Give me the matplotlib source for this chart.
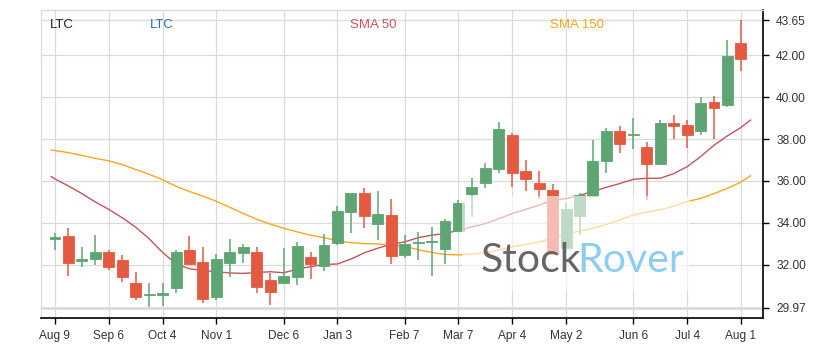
import matplotlib
matplotlib.use('Agg')
import matplotlib.pyplot as plt
import matplotlib.dates as mdates
from matplotlib.patches import Rectangle
import pandas as pd

# weekly candles, LTC, Aug 2021 - Aug 2022
weeks = pd.date_range('2021-08-09', periods=52, freq='W-MON')

opens = [33.25, 33.38, 32.20, 32.30, 32.62, 32.24, 31.14, 30.57, 30.59, 30.92,
         32.71, 32.14, 30.49, 32.11, 32.59, 32.62, 31.29, 31.16, 31.44, 32.38,
         31.95, 33.06, 34.54, 35.43, 33.97, 34.38, 32.49, 33.03, 33.08, 32.78,
         33.63, 35.40, 35.92, 36.59, 38.19, 36.48, 35.89, 35.57, 32.83, 34.35,
         35.29, 36.94, 38.38, 38.19, 37.62, 36.82, 38.75, 38.65, 38.40, 39.75,
         39.63, 42.56]
highs = [33.54, 33.75, 32.87, 33.41, 32.71, 32.48, 31.67, 31.13, 31.13, 32.71,
         33.38, 32.86, 32.51, 33.24, 32.98, 32.86, 31.63, 32.79, 33.11, 32.62,
         33.46, 34.81, 35.43, 35.68, 35.52, 35.14, 33.41, 33.56, 33.81, 34.18,
         35.10, 36.13, 36.84, 38.79, 38.30, 37.00, 36.48, 35.84, 35.02, 35.45,
         37.95, 38.51, 38.62, 38.99, 37.87, 38.90, 39.13, 38.90, 40.02, 40.06,
         42.73, 43.68]
lows = [32.71, 31.48, 31.89, 32.01, 31.76, 31.21, 30.33, 29.98, 30.05, 30.68,
        32.03, 30.21, 30.33, 31.41, 32.08, 30.65, 30.08, 31.10, 31.03, 31.32,
        31.73, 32.94, 33.54, 33.78, 33.18, 32.06, 32.35, 32.22, 31.46, 32.05,
        33.60, 34.30, 35.65, 36.37, 35.70, 35.54, 35.13, 32.48, 32.80, 33.43,
        35.22, 36.37, 37.35, 37.51, 35.10, 36.82, 38.00, 37.56, 38.19, 38.00,
        39.54, 41.22]
closes = [33.35, 32.11, 32.27, 32.62, 31.92, 31.44, 30.49, 30.64, 30.66, 32.62,
          32.05, 30.39, 32.29, 32.62, 32.86, 30.97, 30.71, 31.48, 32.90, 32.05,
          32.95, 34.57, 35.43, 34.35, 34.43, 32.44, 33.00, 33.09, 33.14, 34.10,
          34.94, 35.71, 36.62, 38.48, 36.40, 36.08, 35.63, 32.52, 34.67, 35.33,
          36.95, 38.38, 37.78, 38.23, 36.82, 38.75, 38.63, 38.21, 39.70, 39.49,
          41.94, 41.82]

# moving averages read at the candle dates, plus the first and last day
sma_dates = [pd.Timestamp('2021-08-07')] + list(weeks) + [pd.Timestamp('2022-08-06')]
sma50 = [36.21, 36.10, 35.76, 35.40, 35.00, 34.65, 34.25, 33.80, 33.25, 32.60,
         32.05, 31.82, 31.74, 31.68, 31.62, 31.60, 31.64, 31.68, 31.63, 31.80,
         31.92, 32.02, 32.05, 32.28, 32.58, 32.80, 32.98, 33.10, 33.30, 33.42,
         33.50, 33.65, 33.82, 33.97, 34.20, 34.45, 34.65, 34.85, 35.08, 35.16,
         35.32, 35.50, 35.70, 35.88, 36.08, 36.13, 36.13, 36.35, 36.68, 37.16,
         37.70, 38.15, 38.55, 38.90]
sma150 = [37.48, 37.45, 37.35, 37.22, 37.08, 36.96, 36.78, 36.55, 36.32, 36.06,
          35.75, 35.50, 35.28, 35.03, 34.75, 34.45, 34.18, 33.95, 33.75, 33.58,
          33.42, 33.30, 33.16, 33.06, 33.02, 33.00, 32.96, 32.88, 32.73, 32.60,
          32.50, 32.48, 32.52, 32.59, 32.72, 32.86, 32.98, 33.10, 33.27, 33.46,
          33.62, 33.75, 33.93, 34.15, 34.38, 34.52, 34.63, 34.80, 35.02, 35.17,
          35.40, 35.65, 35.95, 36.25]

tick_dates = ['2021-08-09', '2021-09-06', '2021-10-04', '2021-11-01', '2021-12-06',
              '2022-01-03', '2022-02-07', '2022-03-07', '2022-04-04', '2022-05-02',
              '2022-06-06', '2022-07-04', '2022-08-01']
tick_labels = ['Aug 9', 'Sep 6', 'Oct 4', 'Nov 1', 'Dec 6', 'Jan 3', 'Feb 7',
               'Mar 7', 'Apr 4', 'May 2', 'Jun 6', 'Jul 4', 'Aug 1']
y_ticks = [29.97, 32, 34, 36, 38, 40, 42, 43.65]

green = '#5fa573'
red = '#e45a41'
grid_c = '#dadada'

W, H = 823, 352
fig = plt.figure(figsize=(W / 100, H / 100), dpi=100, facecolor='w')
ax = fig.add_axes([40.5 / W, 1 - 318 / H, (763 - 40.5) / W, (318 - 10) / H])

xs = mdates.date2num(weeks)
for x, o, h, l, c in zip(xs, opens, highs, lows, closes):
    col = green if c >= o else red
    ax.vlines(x, l, h, color=col, linewidth=1.1, zorder=3)
    ax.bar(x, abs(c - o), bottom=min(o, c), width=5.7, color=col,
           edgecolor=col, linewidth=0.6, zorder=4)

sx = mdates.date2num(sma_dates)
ax.plot(sx, sma150, color='#ffa41c', linewidth=1.0, zorder=2)
ax.plot(sx, sma50, color='#c4545a', linewidth=1.0, zorder=2)

ax.set_xlim(mdates.date2num(pd.Timestamp('2021-08-01 11:00')),
            mdates.date2num(pd.Timestamp('2022-08-12 12:00')))
ax.set_ylim(29.476, 44.143)

ax.set_xticks(mdates.date2num(pd.to_datetime(tick_dates)))
ax.set_xticklabels(tick_labels)
ax.set_yticks(y_ticks)
ax.set_yticklabels(['%.2f' % v for v in y_ticks])
ax.yaxis.tick_right()

ax.tick_params(axis='x', direction='out', length=4.5, width=1, color='black',
               labelsize=8.6, labelcolor='#333333', pad=4)
ax.tick_params(axis='y', direction='out', length=4, width=1, color='black',
               labelsize=8.6, labelcolor='#333333', pad=5.5)
for lab in ax.get_xticklabels() + ax.get_yticklabels():
    lab.set_family(['Liberation Sans', 'DejaVu Sans'])

ax.grid(True, color=grid_c, linewidth=0.9, zorder=0)
ax.set_axisbelow(True)
ax.get_ygridlines()[0].set_linewidth(2.0)

ax.spines['bottom'].set_color('black')
ax.spines['bottom'].set_linewidth(1.2)
ax.spines['right'].set_color('black')
ax.spines['right'].set_linewidth(1.2)
ax.spines['left'].set_color(grid_c)
ax.spines['left'].set_linewidth(0.9)
ax.spines['top'].set_color(grid_c)
ax.spines['top'].set_linewidth(0.9)

# legend row across the top
legend_items = [('LTC', '#222222', 50), ('LTC', '#2a6fb8', 150),
                ('SMA 50', '#cf5656', 350), ('SMA 150', '#ffa41c', 550)]
for txt, col, px in legend_items:
    fig.text(px / W, 1 - 25.5 / H, txt, color=col, fontsize=9.5, va='center',
             ha='left', family=['Liberation Sans', 'DejaVu Sans'])

# watermark
fig.add_artist(Rectangle((462 / W, 1 - 290 / H), (690 - 462) / W, (290 - 196) / H,
                         transform=fig.transFigure, facecolor='white', alpha=0.6,
                         edgecolor='none', zorder=1))
fig.text(481 / W, 1 - 271.7 / H, 'Stock', color='#666666', fontsize=29.5,
         family=['Lato', 'DejaVu Sans'], va='baseline', ha='left', zorder=3)
fig.text(577 / W, 1 - 271.7 / H, 'Rover', color='#8ecdf2', fontsize=29.5,
         family=['Lato', 'DejaVu Sans'], va='baseline', ha='left', zorder=3)

fig.savefig('out.png', dpi=100, facecolor='w')
